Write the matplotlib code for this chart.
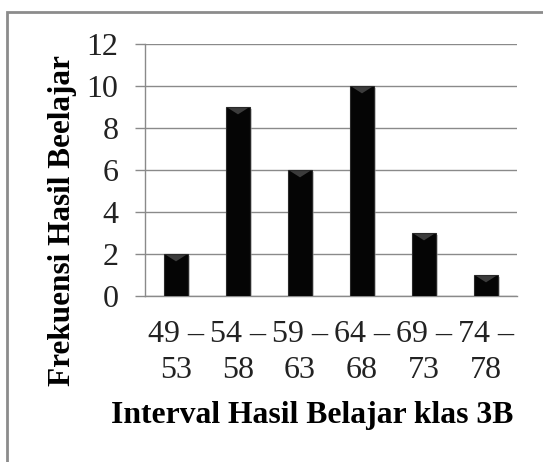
import matplotlib
matplotlib.use("Agg")
import matplotlib.pyplot as plt
from matplotlib.patches import Rectangle, Polygon
import matplotlib.patheffects as pe

categories = ["49 –\n53", "54 –\n58", "59 –\n63", "64 –\n68", "69 –\n73", "74 –\n78"]
values = [2, 9, 6, 10, 3, 1]
yticks = [0, 2, 4, 6, 8, 10, 12]
xlabel = "Interval Hasil Belajar klas 3B"
ylabel = "Frekuensi Hasil Beelajar"

plt.rcParams['font.family'] = ['Liberation Serif', 'DejaVu Serif']

W, H = 543, 462
fig = plt.figure(figsize=(W / 100, H / 100), dpi=100)
ax = fig.add_axes([145 / W, 1 - 296 / H, (517 - 145) / W, (296 - 44) / H])

x = list(range(len(values)))
bars = ax.bar(x, values, width=0.4, color='#050505', edgecolor='#2a2a2a', linewidth=0.8, zorder=3)
for b in bars:
    b.set_path_effects([pe.SimplePatchShadow(offset=(1.5, -1.5), shadow_rgbFace='#999999', alpha=0.5), pe.Normal()])
    # small bevel at the top of each bar
    bx, bw, bh = b.get_x(), b.get_width(), b.get_height()
    d = 0.35  # in data units (y)
    ax.add_patch(Polygon([(bx + 0.04, bh - 0.05), (bx + bw - 0.04, bh - 0.05), (bx + bw / 2, bh - d)],
                         closed=True, facecolor='#3c3c3c', edgecolor='none', zorder=4))

ax.set_xlim(-0.5, len(values) - 0.5)
ax.set_ylim(0, 12)
ax.set_yticks(yticks)
ax.set_yticklabels([str(t) for t in yticks], fontsize=23, color='#222222')
ax.set_xticks(x)
ax.set_xticklabels(categories, fontsize=23, color='#222222', linespacing=1.35)
ax.tick_params(axis='y', length=7, color='#8a8a8a', width=1, pad=12)
ax.tick_params(axis='x', length=0, pad=17)
ax.yaxis.grid(True, color='#8a8a8a', linewidth=1, zorder=0)
ax.set_axisbelow(True)
for s in ['top', 'right']:
    ax.spines[s].set_visible(False)
for s in ['left', 'bottom']:
    ax.spines[s].set_color('#8a8a8a')
    ax.spines[s].set_linewidth(1)

fig.text(312 / W, 1 - 416 / H, xlabel, fontsize=22.8, fontweight='bold', ha='center', va='center')
fig.text(63 / W, 1 - 221 / H, ylabel, fontsize=22.5, fontweight='bold', ha='center', va='center', rotation=90)

fig.patches.append(Rectangle((7 / W, -0.1), 2, 1 - 12 / H + 0.1, transform=fig.transFigure,
                             fill=False, edgecolor='#8c8c8c', linewidth=2))

fig.savefig("out.png", dpi=100)
